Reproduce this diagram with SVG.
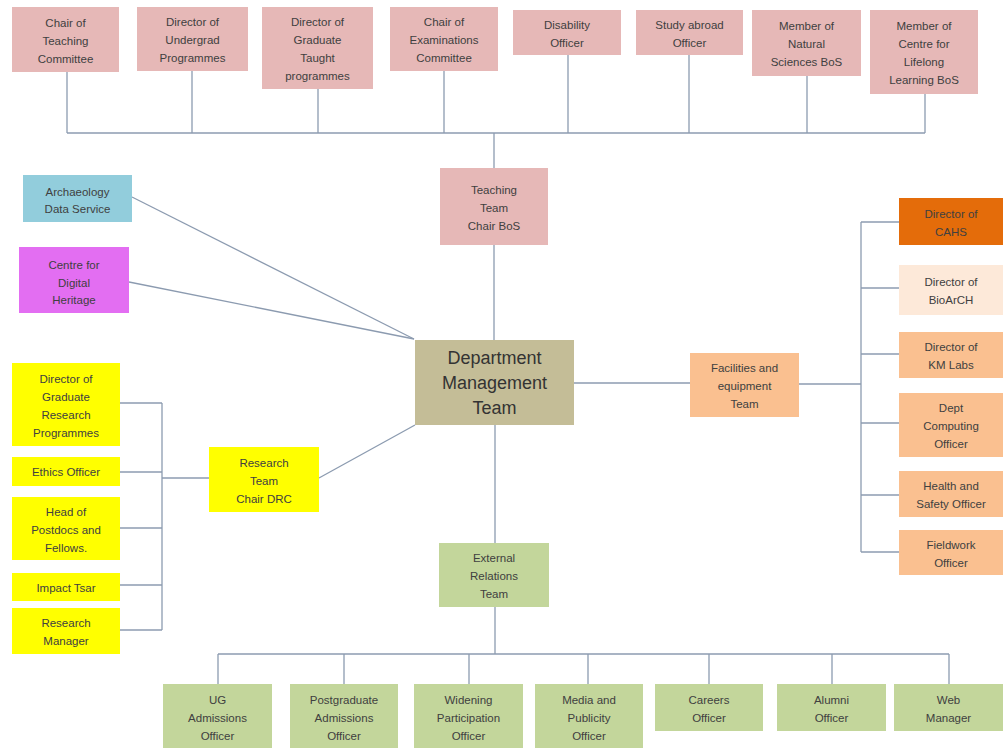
<svg xmlns="http://www.w3.org/2000/svg" width="1005" height="749" viewBox="0 0 1005 749">
<style>
text{font-family:"Liberation Sans",Arial,sans-serif;font-size:11.5px;fill:#404040;text-anchor:middle}
.big{font-size:18px;fill:#333}
.pink{fill:#E6B8B7}.blue{fill:#92CDDC}.mag{fill:#E36EF2}.yel{fill:#FFFF00}.khaki{fill:#C4BD97}
.org{fill:#FAC090}.dorg{fill:#E46C0A}.pale{fill:#FDE9D9}.grn{fill:#C3D69B}
#connectors line,#connectors polyline{stroke:#8C9BB0;stroke-width:1.3;fill:none}
</style>
<rect width="1005" height="749" fill="#fff"/>
<g id="connectors">
<line x1="67" y1="133" x2="925" y2="133"/>
<line x1="67" y1="72" x2="67" y2="133"/>
<line x1="192" y1="71" x2="192" y2="133"/>
<line x1="318" y1="89" x2="318" y2="133"/>
<line x1="444" y1="71" x2="444" y2="133"/>
<line x1="568" y1="55" x2="568" y2="133"/>
<line x1="689" y1="55" x2="689" y2="133"/>
<line x1="807" y1="76" x2="807" y2="133"/>
<line x1="925" y1="94" x2="925" y2="133"/>
<line x1="494" y1="133" x2="494" y2="168"/>
<line x1="494" y1="245" x2="494" y2="340"/>
<line x1="132" y1="197" x2="414" y2="339"/>
<line x1="129" y1="282" x2="414" y2="339"/>
<line x1="319" y1="478" x2="415" y2="425"/>
<line x1="120" y1="403" x2="162" y2="403"/>
<line x1="120" y1="472" x2="162" y2="472"/>
<line x1="120" y1="528" x2="162" y2="528"/>
<line x1="120" y1="585" x2="162" y2="585"/>
<line x1="120" y1="630" x2="162" y2="630"/>
<line x1="162" y1="403" x2="162" y2="630"/>
<line x1="162" y1="478" x2="209" y2="478"/>
<line x1="574" y1="383" x2="690" y2="383"/>
<line x1="799" y1="384" x2="861" y2="384"/>
<line x1="861" y1="222" x2="861" y2="552"/>
<line x1="861" y1="222" x2="899" y2="222"/>
<line x1="861" y1="288" x2="899" y2="288"/>
<line x1="861" y1="354" x2="899" y2="354"/>
<line x1="861" y1="423" x2="899" y2="423"/>
<line x1="861" y1="495" x2="899" y2="495"/>
<line x1="861" y1="552" x2="899" y2="552"/>
<line x1="495" y1="425" x2="495" y2="543"/>
<line x1="495" y1="607" x2="495" y2="654"/>
<line x1="218" y1="654" x2="949" y2="654"/>
<line x1="218" y1="654" x2="218" y2="684"/>
<line x1="344" y1="654" x2="344" y2="684"/>
<line x1="469" y1="654" x2="469" y2="684"/>
<line x1="588" y1="654" x2="588" y2="684"/>
<line x1="709" y1="654" x2="709" y2="684"/>
<line x1="832" y1="654" x2="832" y2="684"/>
<line x1="949" y1="654" x2="949" y2="684"/>
</g>
<g id="t1"><rect class="pink" x="12" y="7" width="107" height="65"/><text x="65.5" y="26.5">Chair of</text><text x="65.5" y="44.5">Teaching</text><text x="65.5" y="62.5">Committee</text></g>
<g id="t2"><rect class="pink" x="137" y="7" width="111" height="64"/><text x="192.5" y="26">Director of</text><text x="192.5" y="44">Undergrad</text><text x="192.5" y="62">Programmes</text></g>
<g id="t3"><rect class="pink" x="262" y="7" width="111" height="82"/><text x="317.5" y="26">Director of</text><text x="317.5" y="44">Graduate</text><text x="317.5" y="62">Taught</text><text x="317.5" y="80">programmes</text></g>
<g id="t4"><rect class="pink" x="390" y="7" width="108" height="64"/><text x="444" y="26">Chair of</text><text x="444" y="44">Examinations</text><text x="444" y="62">Committee</text></g>
<g id="t5"><rect class="pink" x="513" y="10" width="108" height="45"/><text x="567" y="28.5">Disability</text><text x="567" y="46.5">Officer</text></g>
<g id="t6"><rect class="pink" x="636" y="10" width="107" height="45"/><text x="689.5" y="28.5">Study abroad</text><text x="689.5" y="46.5">Officer</text></g>
<g id="t7"><rect class="pink" x="752" y="10" width="109" height="66"/><text x="806.5" y="30">Member of</text><text x="806.5" y="48">Natural</text><text x="806.5" y="66">Sciences BoS</text></g>
<g id="t8"><rect class="pink" x="870" y="10" width="108" height="84"/><text x="924" y="30">Member of</text><text x="924" y="48">Centre for</text><text x="924" y="66">Lifelong</text><text x="924" y="84">Learning BoS</text></g>
<g id="teaching"><rect class="pink" x="440" y="168" width="108" height="77"/><text x="494" y="194">Teaching</text><text x="494" y="212">Team</text><text x="494" y="230">Chair BoS</text></g>
<g id="ads"><rect class="blue" x="23" y="175" width="109" height="47"/><text x="77.5" y="195.5">Archaeology</text><text x="77.5" y="212.5">Data Service</text></g>
<g id="cdh"><rect class="mag" x="19" y="247" width="110" height="66"/><text x="74" y="269">Centre for</text><text x="74" y="286.5">Digital</text><text x="74" y="304">Heritage</text></g>
<g id="dept"><rect class="khaki" x="415" y="340" width="159" height="85"/><text class="big" x="494.5" y="364">Department</text><text class="big" x="494.5" y="389">Management</text><text class="big" x="494.5" y="414">Team</text></g>
<g id="research"><rect class="yel" x="209" y="447" width="110" height="65"/><text x="264" y="467">Research</text><text x="264" y="485">Team</text><text x="264" y="503">Chair DRC</text></g>
<g id="y1"><rect class="yel" x="12" y="363" width="108" height="83"/><text x="66" y="382.5">Director of</text><text x="66" y="400.5">Graduate</text><text x="66" y="418.5">Research</text><text x="66" y="436.5">Programmes</text></g>
<g id="y2"><rect class="yel" x="12" y="457" width="108" height="29"/><text x="66" y="476">Ethics Officer</text></g>
<g id="y3"><rect class="yel" x="12" y="497" width="108" height="63"/><text x="66" y="516">Head of</text><text x="66" y="534">Postdocs and</text><text x="66" y="552">Fellows.</text></g>
<g id="y4"><rect class="yel" x="12" y="573" width="108" height="28"/><text x="66" y="591.5">Impact Tsar</text></g>
<g id="y5"><rect class="yel" x="12" y="608" width="108" height="46"/><text x="66" y="627">Research</text><text x="66" y="645">Manager</text></g>
<g id="facilities"><rect class="org" x="690" y="353" width="109" height="64"/><text x="744.5" y="372">Facilities and</text><text x="744.5" y="390">equipment</text><text x="744.5" y="408">Team</text></g>
<g id="r1"><rect class="dorg" x="899" y="198" width="104" height="47"/><text x="951" y="217.5">Director of</text><text x="951" y="235.5">CAHS</text></g>
<g id="r2"><rect class="pale" x="899" y="265" width="104" height="50"/><text x="951" y="286">Director of</text><text x="951" y="304">BioArCH</text></g>
<g id="r3"><rect class="org" x="899" y="332" width="104" height="46"/><text x="951" y="351">Director of</text><text x="951" y="369">KM Labs</text></g>
<g id="r4"><rect class="org" x="899" y="393" width="104" height="64"/><text x="951" y="412">Dept</text><text x="951" y="430">Computing</text><text x="951" y="448">Officer</text></g>
<g id="r5"><rect class="org" x="899" y="471" width="104" height="46"/><text x="951" y="490">Health and</text><text x="951" y="508">Safety Officer</text></g>
<g id="r6"><rect class="org" x="899" y="530" width="104" height="45"/><text x="951" y="548.5">Fieldwork</text><text x="951" y="566.5">Officer</text></g>
<g id="external"><rect class="grn" x="439" y="543" width="110" height="64"/><text x="494" y="562">External</text><text x="494" y="580">Relations</text><text x="494" y="598">Team</text></g>
<g id="b1"><rect class="grn" x="163" y="684" width="109" height="64"/><text x="217.5" y="704">UG</text><text x="217.5" y="722">Admissions</text><text x="217.5" y="740">Officer</text></g>
<g id="b2"><rect class="grn" x="290" y="684" width="108" height="64"/><text x="344" y="704">Postgraduate</text><text x="344" y="722">Admissions</text><text x="344" y="740">Officer</text></g>
<g id="b3"><rect class="grn" x="414" y="684" width="109" height="64"/><text x="468.5" y="704">Widening</text><text x="468.5" y="722">Participation</text><text x="468.5" y="740">Officer</text></g>
<g id="b4"><rect class="grn" x="535" y="684" width="108" height="64"/><text x="589" y="704">Media and</text><text x="589" y="722">Publicity</text><text x="589" y="740">Officer</text></g>
<g id="b5"><rect class="grn" x="655" y="684" width="108" height="47"/><text x="709" y="704">Careers</text><text x="709" y="722">Officer</text></g>
<g id="b6"><rect class="grn" x="777" y="684" width="109" height="47"/><text x="831.5" y="704">Alumni</text><text x="831.5" y="722">Officer</text></g>
<g id="b7"><rect class="grn" x="894" y="684" width="109" height="47"/><text x="948.5" y="704">Web</text><text x="948.5" y="722">Manager</text></g>
</svg>
